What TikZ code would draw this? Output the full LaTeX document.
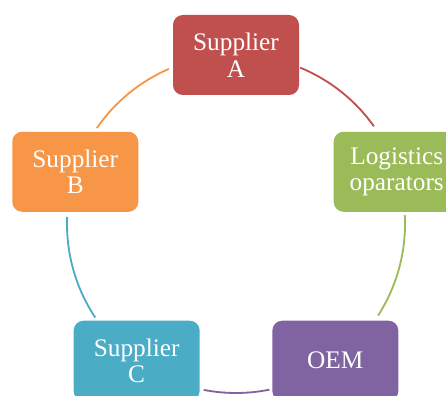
\documentclass[tikz,border=0pt]{standalone}
\usepackage{fontspec}
\setmainfont{Liberation Serif}
\usetikzlibrary{positioning}
\definecolor{colA}{HTML}{C0504D}
\definecolor{colLog}{HTML}{9BBB59}
\definecolor{colOEM}{HTML}{8064A2}
\definecolor{colC}{HTML}{4BACC6}
\definecolor{colB}{HTML}{F79646}
\newcommand{\cycRad}[0]{4.225cm}
\newcommand{\boxFont}[0]{\fontsize{18}{19}\selectfont}

\begin{document}
\begin{tikzpicture}
  \tikzset{cycbox/.style={rounded corners=7pt, minimum width=3.15cm, minimum height=2cm,
      align=center, text=white, font=\boxFont, inner sep=0pt},
    cycarc/.style={line width=1.3pt}}
  \path[use as bounding box] (0,0) rectangle (11.15,9.875);
  \clip (0,0) rectangle (11.15,9.875);
  \coordinate (O) at (5.9,4.275);
  % boxes round the circle
  \node[cycbox, fill=colA]   (supA) at ([shift={(90:\cycRad)}]O)  {Supplier\\A};
  \node[cycbox, fill=colLog] (logi) at ([shift={(18:\cycRad)}]O)  {Logistics\\oparators};
  \node[cycbox, fill=colOEM] (oem)  at ([shift={(-54:\cycRad)}]O) {OEM};
  \node[cycbox, fill=colC]   (supC) at ([shift={(234:\cycRad)}]O) {Supplier\\C};
  \node[cycbox, fill=colB]   (supB) at ([shift={(162:\cycRad)}]O) {Supplier\\B};
  % arcs between them
  \draw[cycarc, colA]   ([shift={(67.7:\cycRad)}]O) arc (67.7:35.3:\cycRad);
  \draw[cycarc, colLog] ([shift={(3:\cycRad)}]O) arc (3:-32.8:\cycRad);
  \draw[cycarc, colOEM] ([shift={(-78.6:\cycRad)}]O) arc (-78.6:-101:\cycRad);
  \draw[cycarc, colC]   ([shift={(213.6:\cycRad)}]O) arc (213.6:177.6:\cycRad);
  \draw[cycarc, colB]   ([shift={(145.4:\cycRad)}]O) arc (145.4:113.4:\cycRad);
\end{tikzpicture}
\end{document}
